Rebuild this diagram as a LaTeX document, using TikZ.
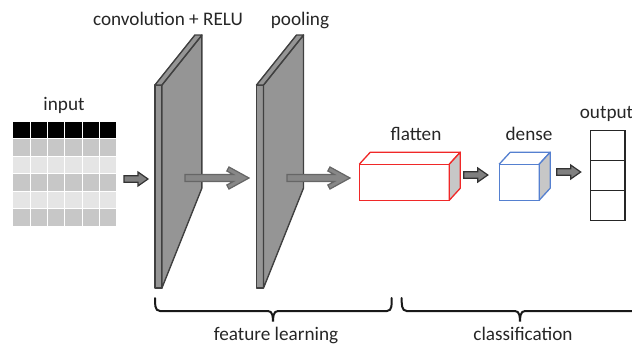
\documentclass[tikz,border=0pt]{standalone}
\usepackage{fontspec}
\setmainfont{Carlito}
\usetikzlibrary{positioning,calc}

\definecolor{flatred}{HTML}{F02828}
\definecolor{denseblue}{HTML}{5580D0}
\definecolor{slabgray}{HTML}{959595}

% block arrow between two points (same height)
\newcommand{\blockarrow}[2]{%
  \draw[blockarr] let \p1=(#1), \p2=(#2) in
    (\x1,\y1+1.65pt) -- (\x2-5pt,\y1+1.65pt) -- (\x2-5pt,\y1+3.5pt) -- (\x2,\y1)
    -- (\x2-5pt,\y1-3.5pt) -- (\x2-5pt,\y1-1.65pt) -- (\x1,\y1-1.65pt) -- cycle;}
% thin arrow with chevron head
\newcommand{\chevarrow}[2]{%
  \draw[chevarr] let \p1=(#1), \p2=(#2) in
    (\x1,\y1+1.75pt) -- (\x2-7.85pt,\y1+1.75pt) -- (\x2-11.1pt,\y1+3.5pt) -- (\x2-10pt,\y1+5.5pt)
    -- (\x2,\y1) -- (\x2-10pt,\y1-5.5pt) -- (\x2-11.1pt,\y1-3.5pt) -- (\x2-7.85pt,\y1-1.75pt)
    -- (\x1,\y1-1.75pt) -- cycle;}

\tikzset{
  lbl/.style={anchor=base, inner sep=0pt, font=\fontsize{9.6}{11.5}\selectfont, text=black!85},
  slab/.style={draw=black!75, fill=slabgray, line width=0.7pt, line join=round},
  blockarr/.style={draw=black!80, fill=black!50, line width=0.6pt, line join=miter},
  chevarr/.style={draw=black!60, fill=black!47, line width=0.6pt, line join=miter},
  cell/.style={draw=white, line width=0.5pt},
  outcell/.style={draw=black!85, line width=0.6pt, minimum width=17.15pt, minimum height=14.9pt, inner sep=0pt, outer sep=0pt},
  brace/.style={draw=black!90, line width=1pt, line cap=round}
}

\begin{document}
\begin{tikzpicture}[x=0.5pt, y=-0.5pt]
    \useasboundingbox (0,0) rectangle (632,344);

    % input table
    \node[minimum width=52pt, minimum height=52.5pt, inner sep=0pt] (inp) at (64.7,173.5) {};
    \foreach \r/\col in {0/black, 1/black!22, 2/black!10, 3/black!22, 4/black!10, 5/black!22}
        \foreach \c in {0,...,5}
            \filldraw[cell, fill=\col] (12.7+\c*17.33, 121+\r*17.5) rectangle ++(17.33,17.5);
    \node[lbl] (inplbl) at (64,110) {input};

    % convolution slab
    \node[slab, minimum width=3.5pt, minimum height=101.5pt, inner sep=0pt, outer sep=0pt] (conv) at (158.4,186.5) {};
    \draw[slab] (conv.north east) -- ++(40,-50) -- ++(0,153) -- (conv.south east) -- cycle;
    \draw[slab] (conv.north west) -- ++(40,-50) -- ++(7,0) -- (conv.north east) -- cycle;
    \node[lbl] (convlbl) at (168,25) {convolution + RELU};

    % pooling slab
    \node[slab, minimum width=3.5pt, minimum height=101.5pt, inner sep=0pt, outer sep=0pt] (pool) at (260,186.5) {};
    \draw[slab] (pool.north east) -- ++(40,-50) -- ++(0,153) -- (pool.south east) -- cycle;
    \draw[slab] (pool.north west) -- ++(40,-50) -- ++(7,0) -- (pool.north east) -- cycle;
    \node[lbl] (poollbl) at (300,25) {pooling};

    % flatten
    \node[draw=flatred, line width=0.65pt, minimum width=45pt, minimum height=18pt, inner sep=0pt, outer sep=0pt] (flat) at (404.3,182.2) {};
    \draw[flatred, line width=0.65pt, line join=round] (flat.north west) -- ++(11,-12) -- ++(90,0) -- (flat.north east);
    \draw[flatred, fill=black!22, line width=0.65pt, line join=round] (flat.north east) -- ++(11,-12) -- ++(0,36) -- (flat.south east) -- cycle;
    \node[lbl] (flatlbl) at (416,140) {flatten};

    % dense
    \node[draw=denseblue, line width=0.65pt, minimum width=20pt, minimum height=18pt, inner sep=0pt, outer sep=0pt] (dense) at (519.2,182.2) {};
    \draw[denseblue, line width=0.65pt, line join=round] (dense.north west) -- ++(11,-12) -- ++(40,0) -- (dense.north east);
    \draw[denseblue, fill=black!22, line width=0.65pt, line join=round] (dense.north east) -- ++(11,-12) -- ++(0,36) -- (dense.south east) -- cycle;
    \node[lbl] (denselbl) at (529,140) {dense};

    % output
    \node[outcell] (out1) at (607.9,145.6) {};
    \node[outcell, below=0pt of out1] (out2) {};
    \node[outcell, below=0pt of out2] (out3) {};
    \node[lbl] (outlbl) at (606.5,118.3) {output};

    % arrows
    \coordinate (a1s) at (124,179);
    \coordinate (a1e) at (148,179);
    \blockarrow{a1s}{a1e}
    \coordinate (c1s) at (185,178);
    \coordinate (c1e) at (249,178);
    \chevarrow{c1s}{c1e}
    \coordinate (c2s) at (287,178);
    \coordinate (c2e) at (350,178);
    \chevarrow{c2s}{c2e}
    \coordinate (a2s) at ($(flat.east)+(14.5,-7.2)$);
    \coordinate (a2e) at ($(a2s)+(24,0)$);
    \blockarrow{a2s}{a2e}
    \coordinate (a3s) at (556.7,172);
    \coordinate (a3e) at (580.7,172);
    \blockarrow{a3s}{a3e}

    % braces
    \draw[brace] (155,298) to[out=-90,in=180] (160,311) -- (268,311)
        to[out=0,in=90] (273,321.7) to[out=90,in=180] (278,311) -- (387,311)
        to[out=0,in=-90] (391.7,298);
    \node[lbl] (featlbl) at (276,340) {feature learning};
    \draw[brace] (401.7,298) to[out=-90,in=180] (406.7,311) -- (515,311)
        to[out=0,in=90] (520,321.7) to[out=90,in=180] (525,311) -- (640,311);
    \node[lbl] (clslbl) at (523,340) {classification};
\end{tikzpicture}
\end{document}
